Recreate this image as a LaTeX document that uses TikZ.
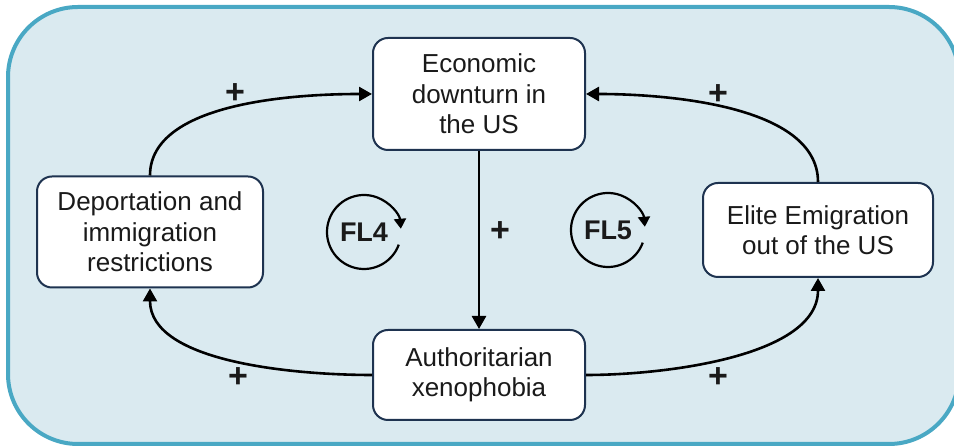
\documentclass[tikz,border=0pt]{standalone}
\usepackage{fontspec}
\setmainfont{Liberation Sans}
\usetikzlibrary{arrows.meta, positioning}
\definecolor{panelfill}{HTML}{DAEAF0}
\definecolor{panelline}{HTML}{49A8C4}
\definecolor{boxline}{HTML}{1E3350}
\definecolor{inktext}{HTML}{1A1A1A}
\tikzstyle{factor} = [rectangle, rounded corners=15pt, draw=boxline, line width=2pt, fill=white, align=center, text=inktext, inner sep=0pt, font=\fontsize{26}{30.5}\selectfont]
\tikzstyle{plus} = [font=\bfseries\fontsize{34}{34}\selectfont, text=inktext]
\tikzstyle{looptag} = [font=\bfseries\fontsize{27}{27}\selectfont, text=inktext]
\tikzstyle{arrow} = [line width=2.6pt, draw=black, -{Triangle[length=13pt,width=14pt]}]
\tikzstyle{loopline} = [line width=2.2pt, draw=black, -{Triangle[length=10pt,width=12pt]}]

\begin{document}
\begin{tikzpicture}[x=1pt, y=1pt]
\useasboundingbox (0,0) rectangle (954,446);
\clip (0,0) rectangle (954,446);
% panel
\draw[panelline, fill=panelfill, line width=4pt, rounded corners=70pt] (8,2) rectangle (959,439);

\node (econ) [factor, minimum width=212pt, minimum height=112pt] at (479,352) {Economic\\downturn in\\the US};
\node (auth) [factor, minimum width=212pt, minimum height=90pt, below=178pt of econ] {Authoritarian\\xenophobia};
\node (deport) [factor, minimum width=226pt, minimum height=111pt] at (150,214) {Deportation and\\immigration\\restrictions};
\node (elite) [factor, minimum width=230pt, minimum height=94pt] at (818,216) {Elite Emigration\\out of the US};

% loop markers
\node (fl4) [looptag] at (364,214) {FL4};
\node (fl5) [looptag] at (608,216) {FL5};
\draw [loopline] (fl4.center) ++(-20:37pt) arc[start angle=-20, end angle=-355, radius=37pt];
\draw [loopline] (fl5.center) ++(-20:37pt) arc[start angle=-20, end angle=-355, radius=37pt];

\draw [arrow] (deport.north) to[out=90, in=180, looseness=0.8] (econ.west);
\draw [arrow] (elite.north) to[out=90, in=0, looseness=0.8] (econ.east);
\draw [arrow] (econ.south) -- (auth.north);
\draw [arrow] (auth.west) to[out=180, in=-90, looseness=0.8] (deport.south);
\draw [arrow] (auth.east) to[out=0, in=-90, looseness=0.8] (elite.south);

\node (p1) [plus] at (235,352) {+};
\node (p2) [plus] at (718,351) {+};
\node (p3) [plus] at (500,214) {+};
\node (p4) [plus] at (238,68) {+};
\node (p5) [plus] at (718,68) {+};
\end{tikzpicture}
\end{document}
